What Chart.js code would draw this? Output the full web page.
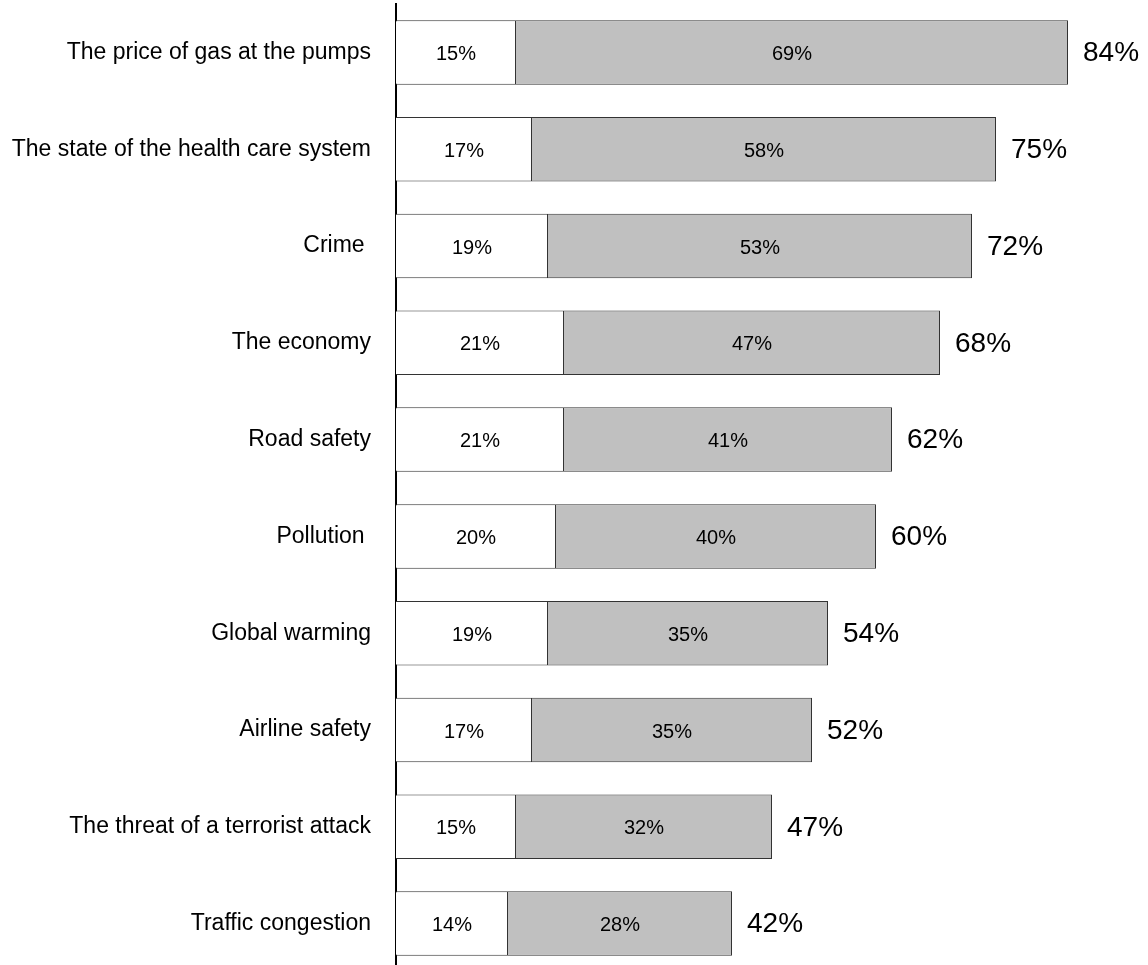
<!DOCTYPE html>
<html>
<head>
<meta charset="utf-8">
<script src="https://cdn.jsdelivr.net/npm/chart.js@4.4.1/dist/chart.umd.min.js"></script>
<style>
  html, body { margin: 0; padding: 0; background: #fff; overflow: hidden; }
  #wrap { position: relative; width: 1148px; height: 976px; }
</style>
</head>
<body>
<div id="wrap"><canvas id="concerns"></canvas></div>
<script>
const categories = [
  'The price of gas at the pumps',
  'The state of the health care system',
  'Crime ',
  'The economy',
  'Road safety',
  'Pollution ',
  'Global warming',
  'Airline safety',
  'The threat of a terrorist attack',
  'Traffic congestion'
];
const partOne = [15, 17, 19, 21, 21, 20, 19, 17, 15, 14];
const partTwo = [69, 58, 53, 47, 41, 40, 35, 35, 32, 28];
const totals = partOne.map((v, i) => v + partTwo[i]);

const FONT = '"Liberation Sans", Arial, sans-serif';
Chart.defaults.font.family = FONT;
Chart.defaults.color = '#000';

// segment values inside the bars, totals just past the end
const barText = {
  id: 'barText',
  afterDatasetsDraw(chart) {
    const ctx = chart.ctx;
    ctx.save();
    ctx.fillStyle = '#000';
    ctx.textBaseline = 'middle';
    ctx.textAlign = 'center';
    ctx.font = '20px ' + FONT;
    chart.data.datasets.forEach((ds, i) => {
      chart.getDatasetMeta(i).data.forEach((bar, j) => {
        ctx.fillText(ds.data[j] + '%', (bar.x + bar.base) / 2, bar.y + 2);
      });
    });
    ctx.textAlign = 'left';
    ctx.font = '28px ' + FONT;
    chart.getDatasetMeta(1).data.forEach((bar, j) => {
      ctx.fillText(totals[j] + '%', bar.x + 15, bar.y + 1);
    });
    ctx.restore();
  }
};

new Chart(document.getElementById('concerns'), {
  type: 'bar',
  data: {
    labels: categories,
    datasets: [
      {
        data: partOne,
        backgroundColor: '#ffffff',
        borderColor: '#333333',
        borderWidth: 1
      },
      {
        data: partTwo,
        backgroundColor: '#c0c0c0',
        borderColor: '#333333',
        borderWidth: 1
      }
    ]
  },
  options: {
    indexAxis: 'y',
    responsive: true,
    maintainAspectRatio: false,
    animation: false,
    layout: { padding: { top: 4, bottom: 4, left: 0, right: 32 } },
    datasets: { bar: { barPercentage: 0.666, categoryPercentage: 1 } },
    plugins: {
      legend: { display: false },
      tooltip: { enabled: false }
    },
    scales: {
      x: { stacked: true, min: 0, max: 90, display: false },
      y: {
        stacked: true,
        z: 1,
        grid: { display: false, drawTicks: false },
        border: { display: true, color: '#000', width: 2 },
        ticks: { padding: 25, font: { size: 23 }, color: '#000' },
        afterFit: (scale) => {
          scale.width = 396;
          scale.paddingTop = 0;
          scale.paddingBottom = 0;
        }
      }
    }
  },
  plugins: [barText]
});
</script>
</body>
</html>
